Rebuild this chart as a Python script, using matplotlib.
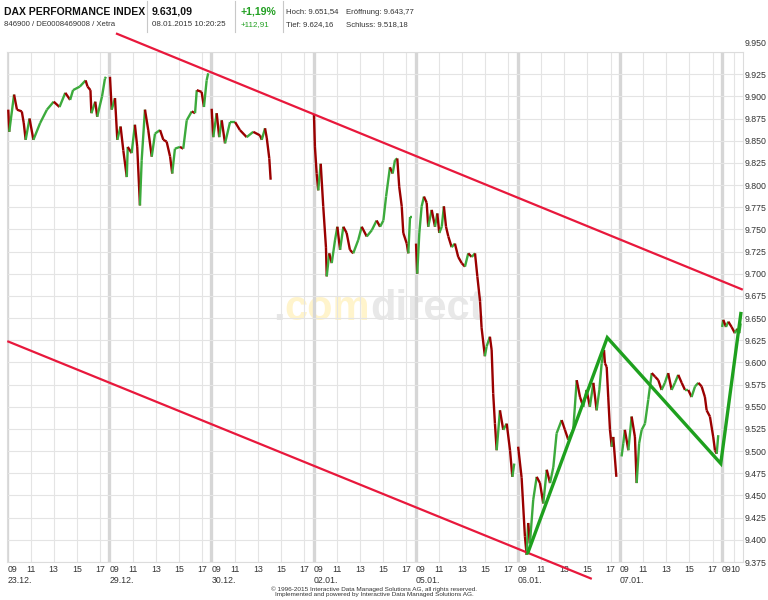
import matplotlib
matplotlib.use("Agg")
import matplotlib.pyplot as plt
from matplotlib.collections import LineCollection
from matplotlib.lines import Line2D
from matplotlib.transforms import ScaledTranslation

plt.rcParams['font.family'] = ['Liberation Sans', 'DejaVu Sans']

W, H = 768, 600

# ---------------- data ----------------
days = ["23.12.", "29.12.", "30.12.", "02.01.", "05.01.", "06.01.", "07.01.", "08.01."]
hour_labels = ["11", "13", "15", "17"]
last_day_hour_labels = ["10"]
y_ticks = list(range(9375, 9951, 25))

# minutes after 09:00 and index level, per trading day
m_2312 = [5, 10, 35, 50, 75, 85, 95, 115, 135, 170, 205, 240, 270, 300, 325, 340, 375, 405, 415, 430, 435, 455, 465, 490, 505, 510]
v_2312 = [9885, 9860, 9902, 9885, 9883, 9870, 9851, 9875, 9851, 9870, 9885, 9894, 9888, 9904, 9896, 9907, 9911, 9918, 9911, 9907, 9881, 9894, 9877, 9900, 9920, 9922]

m_2912 = [3, 12, 29, 41, 58, 72, 90, 95, 115, 132, 144, 158, 167, 184, 201, 219, 236, 262, 279, 296, 314, 325, 339, 365, 382, 400, 426, 443, 452, 477, 489, 503, 511]
v_2912 = [9922, 9885, 9898, 9851, 9866, 9839, 9809, 9843, 9836, 9868, 9843, 9777, 9828, 9885, 9862, 9832, 9858, 9862, 9851, 9849, 9832, 9813, 9841, 9843, 9841, 9873, 9883, 9881, 9907, 9905, 9888, 9918, 9926]

m_3012 = [1, 9, 27, 40, 53, 70, 96, 122, 147, 182, 216, 251, 260, 277, 286, 299, 306]
v_3012 = [9886, 9854, 9881, 9854, 9873, 9847, 9871, 9871, 9862, 9854, 9860, 9856, 9851, 9864, 9853, 9830, 9806]

m_0201 = [2, 7, 16, 24, 37, 50, 64, 68, 81, 94, 111, 123, 137, 154, 171, 188, 205, 231, 249, 275, 301, 326, 344, 361, 375, 395, 409, 421, 433, 443, 456, 464, 482, 490, 499, 510]
v_0201 = [9879, 9843, 9813, 9794, 9824, 9776, 9730, 9697, 9723, 9712, 9738, 9753, 9727, 9753, 9746, 9727, 9723, 9738, 9753, 9742, 9749, 9760, 9753, 9760, 9787, 9820, 9813, 9828, 9830, 9798, 9776, 9746, 9734, 9723, 9764, 9764]

m_0501 = [2, 8, 19, 31, 43, 57, 65, 83, 100, 112, 122, 135, 146, 157, 169, 186, 203, 220, 238, 255, 272, 290, 307, 319, 333, 341, 358, 367, 384, 393, 401, 410, 419, 436, 453, 471, 488, 500, 510]
v_0501 = [9734, 9700, 9746, 9776, 9787, 9780, 9753, 9772, 9753, 9768, 9746, 9753, 9776, 9753, 9742, 9730, 9734, 9719, 9712, 9708, 9723, 9719, 9723, 9697, 9669, 9639, 9607, 9618, 9629, 9614, 9565, 9531, 9501, 9546, 9524, 9531, 9501, 9471, 9486]

m_0601 = [2, 20, 37, 46, 54, 63, 80, 98, 115, 132, 150, 167, 184, 201, 227, 244, 261, 287, 305, 322, 339, 356, 373, 391, 408, 422, 434, 446, 451, 460, 468, 477, 486, 494, 510]
v_0601 = [9505, 9470, 9404, 9383, 9419, 9396, 9445, 9471, 9464, 9441, 9479, 9464, 9482, 9520, 9535, 9524, 9513, 9524, 9580, 9561, 9550, 9569, 9550, 9577, 9546, 9569, 9599, 9614, 9599, 9595, 9561, 9524, 9505, 9516, 9471]

m_0701 = [9, 18, 26, 44, 61, 78, 87, 100, 113, 130, 147, 165, 182, 199, 216, 233, 250, 268, 285, 302, 320, 337, 354, 371, 389, 406, 423, 440, 449, 466, 483, 492, 501, 509]
v_0701 = [9494, 9509, 9524, 9501, 9539, 9516, 9464, 9509, 9524, 9531, 9558, 9588, 9584, 9580, 9569, 9577, 9588, 9569, 9577, 9586, 9577, 9569, 9569, 9561, 9573, 9577, 9573, 9561, 9546, 9539, 9516, 9501, 9497, 9518]

m_0801 = [1, 7, 21, 33, 50, 67, 79, 90, 97]
v_0801 = [9640, 9648, 9640, 9646, 9640, 9633, 9638, 9633, 9644]

day_minutes = [m_2312, m_2912, m_3012, m_0201, m_0501, m_0601, m_0701, m_0801]
day_values = [v_2312, v_2912, v_3012, v_0201, v_0501, v_0601, v_0701, v_0801]

# trend channel (red) and zig-zag (green): day index, minutes after 09:00, level
upper_day, upper_min, upper_val = [1, 7], [34, 108], [9971, 9682]
lower_day, lower_min, lower_val = [0, 5], [0, 383], [9624, 9356]
zig_day, zig_min, zig_val = [5, 5, 6, 7], [50, 463, 522, 99], [9384, 9628, 9486, 9657]

SESSION_H = 8.8          # axis width of one trading day (hours)
X_END_MIN = 109          # right edge: minutes after 09:00 of the last day


def pos(d, m):
    return d * SESSION_H + m / 60.0


# ---------------- figure ----------------
fig = plt.figure(figsize=(W / 100, H / 100), dpi=100)
fig.patch.set_facecolor('white')
ax = fig.add_axes([7.3 / W, 38 / H, (743 - 7.3) / W, 510 / H])
ax.set_xlim(0, pos(len(days) - 1, X_END_MIN))
ax.set_ylim(y_ticks[0], y_ticks[-1])
ax.set_axisbelow(True)

for s in ax.spines.values():
    s.set_color('#dcdcdc')
    s.set_linewidth(0.8)

# x ticks: hours row
major_pos = [pos(i, 0) for i in range(len(days))]
minor_pos, minor_lab = [], []
for i in range(len(days) - 1):
    for h in hour_labels:
        minor_pos.append(pos(i, (int(h) - 9) * 60))
        minor_lab.append(h)
for h in last_day_hour_labels:
    minor_pos.append(pos(len(days) - 1, (int(h) - 9) * 60))
    minor_lab.append(h)

ax.set_xticks(major_pos)
ax.set_xticklabels(["09"] * len(days))
ax.set_xticks(minor_pos, minor=True)
ax.set_xticklabels(minor_lab, minor=True)
for lab in ax.get_xticklabels():
    lab.set_ha('left')
ax.tick_params(axis='x', which='both', length=0, pad=2.5, labelsize=6.3, colors='#333333')
last_minor = ax.get_xticklabels(minor=True)[-1]
last_minor.set_ha('left')
last_minor.set_transform(last_minor.get_transform() + ScaledTranslation(-3.2 / 100, 0, fig.dpi_scale_trans))

ax.grid(which='major', axis='x', color='#d6d6d6', lw=2.4)
ax.grid(which='minor', axis='x', color='#e4e4e4', lw=0.8)

# x ticks: date row
sec = ax.secondary_xaxis('bottom')
sec.set_xticks(major_pos[:-1])
sec.set_xticklabels(days[:-1])
for lab in sec.get_xticklabels():
    lab.set_ha('left')
sec.tick_params(axis='x', length=0, pad=9.8, labelsize=6.3, colors='#333333')
sec.spines['bottom'].set_visible(False)

# y ticks
ax.yaxis.tick_right()
ax.set_yticks(y_ticks)
ax.set_yticklabels([f"{v:,}".replace(",", ".") for v in y_ticks])
ax.tick_params(axis='y', length=0, pad=1.5, labelsize=6.3, colors='#333333')
ax.grid(which='major', axis='y', color='#e4e4e4', lw=0.8)
top_lab = ax.get_yticklabels()[-1]
top_lab.set_va('bottom')
top_lab.set_transform(top_lab.get_transform() + ScaledTranslation(0, 3.5 / 100, fig.dpi_scale_trans))

# watermark
renderer = fig.canvas.get_renderer()
wx = 273 / W
for s, c in [(".", '#e6e6e6'), ("com", '#fff4cc'), ("direct", '#e8e8e8')]:
    t = ax.text(wx, 1 - 320 / H, s, transform=fig.transFigure, fontsize=30,
                fontweight='bold', color=c, zorder=0.2, ha='left', va='baseline')
    bb = t.get_window_extent(renderer)
    wx += bb.width / W

# price path, coloured by direction
up_c, dn_c = '#3caa3c', '#9a0000'
for d, (mins, vals) in enumerate(zip(day_minutes, day_values)):
    xs = [pos(d, m) for m in mins]
    segs, cols = [], []
    for k in range(1, len(xs)):
        segs.append([(xs[k - 1], vals[k - 1]), (xs[k], vals[k])])
        cols.append(up_c if vals[k] >= vals[k - 1] else dn_c)
    ax.add_collection(LineCollection(segs, colors=cols, linewidths=1.7, zorder=3,
                                     capstyle='butt', joinstyle='miter'))

# channel lines
red = '#e8183c'
ax.plot([pos(d, m) for d, m in zip(upper_day, upper_min)], upper_val,
        color=red, lw=1.6, clip_on=False, zorder=5, solid_capstyle='butt')
ax.plot([pos(d, m) for d, m in zip(lower_day, lower_min)], lower_val,
        color=red, lw=1.6, clip_on=False, zorder=5, solid_capstyle='butt')
ax.plot([pos(d, m) for d, m in zip(zig_day, zig_min)], zig_val,
        color='#1ea01e', lw=2.4, clip_on=False, zorder=5,
        solid_joinstyle='miter', solid_capstyle='butt')

# ---------------- header ----------------
def fx(px):
    return px / W


def fy(py):
    return 1 - py / H


row1, row2 = fy(14.7), fy(26)
fig.text(fx(4), row1, "DAX PERFORMANCE INDEX", fontsize=7.5, fontweight='bold',
         color='#111111', va='baseline')
fig.text(fx(4), row2, "846900 / DE0008469008 / Xetra", fontsize=5.6, color='#333333', va='baseline')
fig.text(fx(151.7), row1, "9.631,09", fontsize=7.6, fontweight='bold', color='#111111', va='baseline')
fig.text(fx(151.7), row2, "08.01.2015 10:20:25", fontsize=5.8, color='#333333', va='baseline')
green_txt = '#23a023'
fig.text(fx(240.7), row1, "+1,19%", fontsize=7.6, fontweight='bold', color=green_txt, va='baseline')
fig.text(fx(240.7), row2, "+112,91", fontsize=5.8, color=green_txt, va='baseline')
fig.text(fx(286), fy(13.5), "Hoch: 9.651,54", fontsize=5.6, color='#333333', va='baseline')
fig.text(fx(345.7), fy(13.5), "Eröffnung: 9.643,77", fontsize=5.6, color='#333333', va='baseline')
fig.text(fx(286), row2, "Tief: 9.624,16", fontsize=5.6, color='#333333', va='baseline')
fig.text(fx(345.7), row2, "Schluss: 9.518,18", fontsize=5.6, color='#333333', va='baseline')

for sx in (146.7, 235.3, 283.3):
    fig.add_artist(Line2D([fx(sx), fx(sx)], [fy(1), fy(32)], transform=fig.transFigure,
                          color='#c8c8c8', lw=0.8))

# footer
fig.text(fx(374), fy(590.5), "\u00a9 1996-2015 Interactive Data Managed Solutions AG, all rights reserved.",
         fontsize=4.6, color='#333333', ha='center', va='baseline')
fig.text(fx(374), fy(596), "Implemented and powered by Interactive Data Managed Solutions AG.",
         fontsize=4.6, color='#333333', ha='center', va='baseline')

fig.savefig("out.png", dpi=100, facecolor='white')
